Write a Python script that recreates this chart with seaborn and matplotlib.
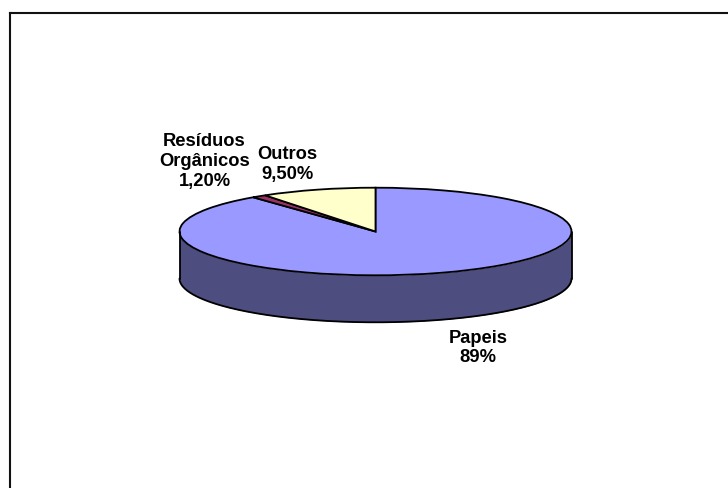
import numpy as np
import matplotlib
matplotlib.use("Agg")
import matplotlib.pyplot as plt
import seaborn as sns

# Composition of the waste, listed clockwise from twelve o'clock
categories = ["Papeis", "Resíduos\nOrgânicos", "Outros"]
shares = [89.0, 1.2, 9.5]
share_labels = ["89%", "1,20%", "9,50%"]
slice_colors = ["#9999FF", "#993366", "#FFFFCC"]
side_color = "#4D4D80"

W, H = 728, 488
sns.set_theme(style="white")
plt.rcParams["font.family"] = ["Liberation Sans", "DejaVu Sans"]

fig = plt.figure(figsize=(W / 100, H / 100), dpi=100, facecolor="white")

# Open frame: only the top and left edges are drawn
frame = fig.add_axes([9.75 / W, 0, 1 - 9.75 / W, (H - 13) / H])
frame.set_xticks([])
frame.set_yticks([])
sns.despine(ax=frame, top=False, left=False, right=True, bottom=True)
for side in ("top", "left"):
    frame.spines[side].set_color("#111111")
    frame.spines[side].set_linewidth(1.5)

# The pie lives in a squashed axes so that its circle reads as a tilted disc
cx, cy, rx, ry, depth = 375.5, 231.5, 196, 43.8, 47
disc = fig.add_axes([(cx - rx) / W, (H - cy - ry) / H, 2 * rx / W, 2 * ry / H])
disc.patch.set_alpha(0)
disc.set_axis_off()

theta = np.linspace(np.pi, 2 * np.pi, 400)
rim_x, rim_y = np.cos(theta), np.sin(theta)
wall = depth / ry
disc.fill_between(rim_x, rim_y, rim_y - wall, color=side_color, lw=0, clip_on=False)
disc.plot(rim_x, rim_y - wall, color="black", lw=1.3, clip_on=False)
for edge_x in (-1, 1):
    disc.plot([edge_x, edge_x], [0, -wall], color="black", lw=1.3, clip_on=False)

disc.pie(
    shares,
    colors=slice_colors,
    startangle=90,
    counterclock=False,
    radius=1,
    wedgeprops={"edgecolor": "black", "linewidth": 1.3, "clip_on": False},
)
disc.set_aspect("auto")
disc.set_xlim(-1, 1)
disc.set_ylim(-1, 1)

# Slice captions: name above value, centred on each anchor point
anchors = [(478, 348), (204.5, 161.5), (287.5, 164.5)]
for name, value, (x, y) in zip(categories, share_labels, anchors):
    fig.text(
        x / W, 1 - y / H, f"{name}\n{value}",
        ha="center", va="center", ma="center",
        fontsize=13.2, fontweight="bold", color="black", linespacing=1.2,
    )

fig.savefig("out.png", dpi=100, facecolor="white")
